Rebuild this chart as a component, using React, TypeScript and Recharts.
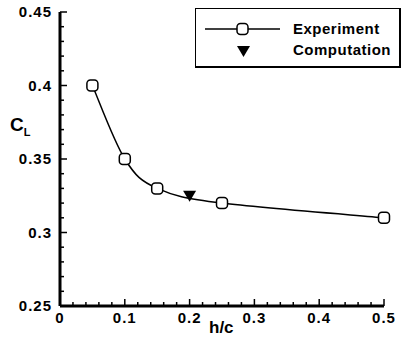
import React from 'react';
import { ComposedChart, Line, Scatter, XAxis, YAxis, Legend } from 'recharts';

// experiment, h/c vs C_L
const expHc = [0.05, 0.1, 0.15, 0.25, 0.5];
const expCl = [0.4, 0.35, 0.33, 0.32, 0.31];
// computation
const compHc = [0.2];
const compCl = [0.325];

const xMajor = [0, 0.1, 0.2, 0.3, 0.4, 0.5];
const yMajor = [0.25, 0.3, 0.35, 0.4, 0.45];
const xTicks = Array.from({ length: 26 }, (_, i) => Math.round(i * 2) / 100);
const yTicks = Array.from({ length: 21 }, (_, i) => Math.round(25 + i) / 100);

const expData = expHc.map((hc, i) => ({ hc, cl: expCl[i] }));
const compData = compHc.map((hc, i) => ({ hc, cl: compCl[i] }));

const FONT = '"Liberation Sans", Arial, sans-serif';

const isMajor = (v: number, list: number[]) => list.some((m) => Math.abs(m - v) < 1e-6);

// catmull-rom style spline, endpoints duplicated
function splineCurve(context: any) {
  let pts: [number, number][] = [];
  return {
    areaStart() {},
    areaEnd() {},
    lineStart() {
      pts = [];
    },
    point(x: number, y: number) {
      pts.push([+x, +y]);
    },
    lineEnd() {
      if (!pts.length) return;
      context.moveTo(pts[0][0], pts[0][1]);
      for (let i = 0; i < pts.length - 1; i++) {
        const p0 = pts[Math.max(0, i - 1)];
        const p1 = pts[i];
        const p2 = pts[i + 1];
        const p3 = pts[Math.min(pts.length - 1, i + 2)];
        context.bezierCurveTo(
          p1[0] + (p2[0] - p0[0]) / 6,
          p1[1] + (p2[1] - p0[1]) / 6,
          p2[0] - (p3[0] - p1[0]) / 6,
          p2[1] - (p3[1] - p1[1]) / 6,
          p2[0],
          p2[1]
        );
      }
    },
  };
}

function YTick(props: any) {
  const { x, y, payload } = props;
  const major = isMajor(payload.value, yMajor);
  return (
    <g>
      <line x1={x} x2={x + (major ? 7 : 4)} y1={y} y2={y} stroke="#000" strokeWidth={1.5} />
      {major && (
        <text x={x - 8} y={y} dy={5} textAnchor="end" fontSize={15} fontWeight="bold" fontFamily={FONT} letterSpacing={1} fill="#000">
          {String(payload.value)}
        </text>
      )}
    </g>
  );
}

function XTick(props: any) {
  const { x, y, payload } = props;
  const major = isMajor(payload.value, xMajor);
  return (
    <g>
      <line x1={x} x2={x} y1={y} y2={y - (major ? 7 : 4)} stroke="#000" strokeWidth={1.5} />
      {major && (
        <text x={x} y={y + 17} textAnchor="middle" fontSize={15} fontWeight="bold" fontFamily={FONT} letterSpacing={1} fill="#000">
          {String(payload.value)}
        </text>
      )}
    </g>
  );
}

function SquareDot(props: any) {
  const { cx, cy } = props;
  if (cx == null || cy == null) return null;
  return <rect x={cx - 5.5} y={cy - 5.5} width={11} height={11} rx={3.5} fill="#fff" stroke="#000" strokeWidth={1.5} />;
}

function Triangle(props: any) {
  const { cx, cy } = props;
  return <path d={`M${cx - 6.5},${cy - 5} L${cx + 6.5},${cy - 5} L${cx},${cy + 6} Z`} fill="#000" />;
}

function LegendBox() {
  return (
    <div
      style={{
        border: '1px solid #000',
        borderRightWidth: 2,
        borderBottomWidth: 2,
        width: 203,
        height: 57,
        background: '#fff',
        fontFamily: FONT,
        fontWeight: 'bold',
        fontSize: 15,
        letterSpacing: 0.5,
        position: 'relative',
      }}
    >
      <svg width={90} height={56} style={{ position: 'absolute', left: 0, top: 0 }}>
        <line x1={9} x2={84} y1={20} y2={20} stroke="#000" strokeWidth={1.5} />
        <rect x={41} y={14.5} width={11} height={11} rx={3.5} fill="#fff" stroke="#000" strokeWidth={1.5} />
        <path d="M41,37 L54,37 L47.5,48 Z" fill="#000" />
      </svg>
      <div style={{ position: 'absolute', left: 97, top: 11, lineHeight: '18px' }}>Experiment</div>
      <div style={{ position: 'absolute', left: 97, top: 32, lineHeight: '18px' }}>Computation</div>
    </div>
  );
}

export default function App() {
  return (
    <div style={{ position: 'absolute', left: 0, top: 0, width: 401, height: 343, background: '#fff' }}>
      <ComposedChart width={401} height={343} margin={{ top: 12, right: 17, left: 0, bottom: 0 }}>
        <XAxis
          dataKey="hc"
          type="number"
          domain={[0, 0.5]}
          ticks={xTicks}
          interval={0}
          height={37}
          tickSize={0}
          tickMargin={0}
          axisLine={{ stroke: '#000', strokeWidth: 3 }}
          tick={<XTick />}
        />
        <YAxis
          type="number"
          domain={[0.25, 0.45]}
          ticks={yTicks}
          interval={0}
          width={60}
          tickSize={0}
          tickMargin={0}
          axisLine={{ stroke: '#000', strokeWidth: 3 }}
          tick={<YTick />}
        />
        <Legend
          layout="vertical"
          align="center"
          verticalAlign="middle"
          wrapperStyle={{ position: 'absolute', left: 195, top: 8, width: 206 }}
          content={() => <LegendBox />}
        />
        <Line
          data={expData}
          dataKey="cl"
          type={splineCurve as any}
          stroke="#000"
          strokeWidth={1.5}
          dot={<SquareDot />}
          activeDot={false}
          isAnimationActive={false}
          name="Experiment"
        />
        <Scatter data={compData} dataKey="cl" shape={<Triangle />} isAnimationActive={false} name="Computation" />
      </ComposedChart>
      <div
        style={{ position: 'absolute', left: 10, top: 114, fontFamily: FONT, fontWeight: 'bold', fontSize: 19 }}
      >
        C<span style={{ fontSize: 11, position: 'relative', top: 5 }}>L</span>
      </div>
      <div
        style={{ position: 'absolute', left: 209, top: 318, fontFamily: FONT, fontWeight: 'bold', fontSize: 17 }}
      >
        h/c
      </div>
    </div>
  );
}
